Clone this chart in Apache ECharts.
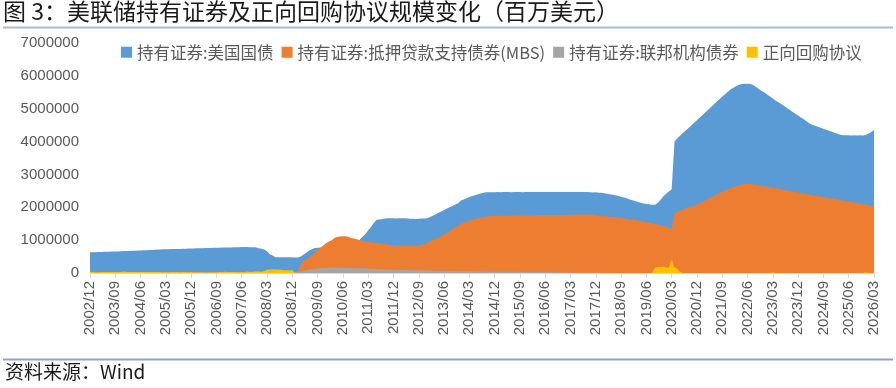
<!DOCTYPE html>
<html>
<head>
<meta charset="utf-8">
<script src="https://cdn.jsdelivr.net/npm/echarts/dist/echarts.min.js"></script>
<style>
html,body{margin:0;padding:0;background:#fff;}
#chart{width:896px;height:388px;}
</style>
</head>
<body>
<div id="chart"></div>
<script>
// ---- data (millions of USD), monthly from 2002/12 to 2026/03 ----
var seriesNames = ['持有证券:美国国债', '持有证券:抵押贷款支持债券(MBS)', '持有证券:联邦机构债券', '正向回购协议'];

var treasury = [
  629000,
  631000,634000,637000,640000,643000,646000,650000,652000,655000,658000,662000,666000,
  669000,672000,675000,679000,683000,687000,691000,695000,699000,703000,708000,717000,
  719000,721000,723000,725000,727000,730000,732000,734000,737000,740000,742000,744000,
  747000,750000,753000,756000,759000,762000,764000,767000,769000,772000,775000,779000,
  779000,779000,780000,781000,786000,790000,790000,790000,780000,780000,780000,754000,
  740000,713000,660000,573000,530000,479000,479000,479000,479000,476000,476000,476000,
  475000,475000,500000,560000,620000,682000,725000,760000,770000,774000,776000,777000,
  777000,777000,777000,777000,777000,777000,777000,795000,812000,835000,860000,1016000,
  1100000,1190000,1300000,1400000,1520000,1617000,1630000,1645000,1658000,1667000,1669000,1663000,
  1660000,1665000,1667000,1665000,1660000,1648000,1650000,1645000,1650000,1655000,1660000,1666000,
  1705000,1745000,1790000,1830000,1875000,1915000,1960000,2000000,2040000,2085000,2120000,2208000,
  2240000,2275000,2310000,2340000,2370000,2395000,2420000,2440000,2455000,2460000,2461000,2461000,
  2462000,2461000,2462000,2463000,2462000,2461000,2462000,2463000,2462000,2461000,2462000,2462000,
  2463000,2462000,2463000,2464000,2463000,2462000,2463000,2464000,2463000,2463000,2464000,2464000,
  2465000,2464000,2465000,2464000,2465000,2465000,2465000,2465000,2465000,2458000,2451000,2454000,
  2446000,2440000,2428000,2415000,2400000,2380000,2364000,2344000,2318000,2300000,2278000,2238000,
  2215000,2190000,2160000,2140000,2115000,2100000,2090000,2075000,2080000,2130000,2220000,2330000,
  2410000,2480000,2550000,4000000,4100000,4180000,4260000,4340000,4410000,4490000,4570000,4650000,
  4730000,4810000,4890000,4970000,5050000,5130000,5210000,5290000,5370000,5440000,5520000,5590000,
  5640000,5690000,5730000,5750000,5760000,5760000,5750000,5720000,5660000,5600000,5540000,5490000,
  5430000,5370000,5310000,5250000,5200000,5140000,5080000,5020000,4970000,4910000,4850000,4790000,
  4730000,4680000,4620000,4560000,4510000,4480000,4450000,4420000,4390000,4360000,4330000,4300000,
  4270000,4240000,4210000,4195000,4190000,4190000,4185000,4190000,4185000,4190000,4185000,4200000,
  4240000,4290000,4360000
];

var mbs = [
  0,
  0,0,0,0,0,0,0,0,0,0,0,0,
  0,0,0,0,0,0,0,0,0,0,0,0,
  0,0,0,0,0,0,0,0,0,0,0,0,
  0,0,0,0,0,0,0,0,0,0,0,0,
  0,0,0,0,0,0,0,0,0,0,0,0,
  0,0,0,0,0,0,0,0,0,0,0,0,
  20000,68000,236000,368000,428000,462000,542000,624000,716000,772000,838000,908000,
  960000,1000000,1069000,1100000,1110000,1118000,1118000,1100000,1060000,1050000,1030000,992000,
  985000,970000,950000,930000,920000,910000,900000,890000,880000,860000,850000,848000,
  845000,842000,840000,840000,838000,835000,838000,840000,842000,855000,880000,927000,
  960000,1000000,1040000,1080000,1120000,1170000,1220000,1280000,1340000,1390000,1440000,1490000,
  1530000,1560000,1590000,1620000,1650000,1670000,1690000,1705000,1715000,1725000,1735000,1738000,
  1740000,1742000,1745000,1745000,1748000,1750000,1752000,1754000,1755000,1756000,1757000,1758000,
  1758000,1759000,1760000,1762000,1762000,1763000,1763000,1764000,1765000,1765000,1766000,1767000,
  1768000,1769000,1770000,1772000,1773000,1775000,1776000,1777000,1778000,1776000,1770000,1752000,
  1745000,1738000,1730000,1722000,1713000,1704000,1694000,1684000,1673000,1662000,1650000,1638000,
  1625000,1612000,1598000,1584000,1568000,1551000,1533000,1514000,1494000,1473000,1451000,1428000,
  1405000,1380000,1340000,1800000,1870000,1900000,1930000,1960000,1990000,2020000,2050000,2080000,
  2120000,2170000,2210000,2260000,2300000,2340000,2390000,2430000,2470000,2510000,2550000,2590000,
  2620000,2650000,2670000,2690000,2700000,2705000,2705000,2700000,2685000,2670000,2654000,2639000,
  2623000,2608000,2592000,2577000,2561000,2546000,2530000,2515000,2499000,2484000,2468000,2453000,
  2437000,2422000,2406000,2391000,2375000,2360000,2344000,2329000,2313000,2298000,2282000,2267000,
  2251000,2236000,2220000,2205000,2189000,2174000,2158000,2143000,2127000,2112000,2096000,2081000,
  2065000,2050000,2034000
];

var agency = [
  0,
  0,0,0,0,0,0,0,0,0,0,0,0,
  0,0,0,0,0,0,0,0,0,0,0,0,
  0,0,0,0,0,0,0,0,0,0,0,0,
  0,0,0,0,0,0,0,0,0,0,0,0,
  0,0,0,0,0,0,0,0,0,0,0,0,
  0,0,0,0,0,0,0,0,5000,12000,15000,20000,
  27000,35000,44000,55000,90000,97000,112000,130000,140000,150000,155000,160000,
  164000,166000,169000,166000,164000,160000,159000,155000,152000,150000,148000,147000,
  144000,142000,138000,133000,126000,118000,114000,111000,108000,106000,104000,104000,
  101000,99000,97000,95000,91000,87000,86000,85000,84000,82000,80000,77000,
  75000,72000,70000,69000,68000,67000,66000,64000,63000,62000,60000,57000,
  56000,54000,52000,51000,47000,44000,43000,42000,41000,41000,40000,39000,
  39000,38000,37000,37000,37000,37000,36000,36000,34000,34000,33000,33000,
  33000,32000,29000,28000,27000,24000,23000,20000,20000,18000,17000,17000,
  16000,13000,11000,10000,9000,8000,8000,7000,6000,5000,4000,4000,
  2347,2347,2347,2347,2347,2347,2347,2347,2347,2347,2347,2347,
  2347,2347,2347,2347,2347,2347,2347,2347,2347,2347,2347,2347,
  2347,2347,2347,2347,2347,2347,2347,2347,2347,2347,2347,2347,
  2347,2347,2347,2347,2347,2347,2347,2347,2347,2347,2347,2347,
  2347,2347,2347,2347,2347,2347,2347,2347,2347,2347,2347,2347,
  2347,2347,2347,2347,2347,2347,2347,2347,2347,2347,2347,2347,
  2347,2347,2347,2347,2347,2347,2347,2347,2347,2347,2347,2347,
  2347,2347,2347,2347,2347,2347,2347,2347,2347,2347,2347,2347,
  2347,2347,2347
];

var repo = [
  39000,
  30000,22000,22000,29000,31000,34000,30000,28000,29000,28000,32000,43000,
  34000,28000,29000,27000,33000,29000,27000,29000,27000,27000,31000,33000,
  28000,26000,30000,25000,27000,28000,29000,25000,28000,27000,24000,32000,
  24000,20000,22000,22000,17000,20000,24000,22000,24000,27000,31000,40000,
  30000,29000,30000,28000,25000,29000,25000,45000,33000,40000,45000,46000,
  40000,58000,100000,110000,112000,105000,110000,100000,85000,85000,80000,80000,
  0,0,0,0,0,0,0,0,0,0,0,0,
  0,0,0,0,0,0,0,0,0,0,0,0,
  0,0,0,0,0,0,0,0,0,0,0,0,
  0,0,0,0,0,0,0,0,0,0,0,0,
  0,0,0,0,0,0,0,0,0,0,0,0,
  0,0,0,0,0,0,0,0,0,0,0,0,
  0,0,0,0,0,0,0,0,0,0,0,0,
  0,0,0,0,0,0,0,0,0,0,0,0,
  0,0,0,0,0,0,0,0,0,0,0,0,
  0,0,0,0,0,0,0,0,0,0,0,0,
  0,0,0,0,0,0,0,0,150000,190000,180000,200000,
  170000,160000,420000,160000,140000,30000,0,0,0,0,0,0,
  0,0,0,0,0,0,0,0,0,0,0,0,
  0,0,0,0,0,0,0,0,0,0,0,0,
  0,0,25000,0,0,0,0,0,0,0,0,0,
  0,0,0,0,0,0,0,0,0,0,0,0,
  0,0,0,0,0,0,0,0,0,0,0,25000,
  5000,0,0
];

// month categories 2002/12 .. 2026/03
var categories = [];
(function () {
  var y = 2002, m = 12;
  while (y < 2026 || (y === 2026 && m <= 3)) {
    categories.push(y + '/' + (m < 10 ? '0' + m : '' + m));
    m++; if (m > 12) { m = 1; y++; }
  }
})();

var colors = ['#5B9BD5', '#ED7D31', '#A5A5A5', '#FFC000'];
var yMax = 7000000, yInterval = 1000000;

var chart = echarts.init(document.getElementById('chart'), null, {renderer: 'canvas'});
var valueSets = [treasury, mbs, agency, repo];
var series = valueSets.map(function (vals, i) {
  return {
    name: seriesNames[i],
    type: 'line',
    data: vals,
    showSymbol: false,
    symbol: 'none',
    smooth: false,
    lineStyle: {width: 0, color: colors[i]},
    itemStyle: {color: colors[i]},
    areaStyle: {color: colors[i], opacity: 1},
    z: 2 + i
  };
});

chart.setOption({
  animation: false,
  backgroundColor: '#fff',
  color: colors,
  grid: {left: 90, right: 22, top: 43, bottom: 115, containLabel: false},
  legend: {
    data: seriesNames,
    left: 116, top: 39,
    itemWidth: 11, itemHeight: 11, itemGap: 8,
    icon: 'rect',
    textStyle: {fontSize: 16.5, color: '#595959', fontFamily: 'Noto Sans CJK SC'}
  },
  xAxis: {
    type: 'category',
    data: categories,
    boundaryGap: false,
    axisLine: {lineStyle: {color: '#D9D9D9', width: 1}},
    axisTick: {show: true, interval: 8, length: 5, lineStyle: {color: '#D9D9D9'}},
    axisLabel: {interval: 8, rotate: 90, fontSize: 15, color: '#595959', margin: 8, fontFamily: 'Liberation Sans'},
    splitLine: {show: false}
  },
  yAxis: {
    type: 'value',
    min: 0, max: yMax, interval: yInterval,
    axisLine: {show: false},
    axisTick: {show: false},
    splitLine: {show: false},
    axisLabel: {fontSize: 15, color: '#595959', margin: 11, fontFamily: 'Liberation Sans',
      formatter: function (v) { return String(v); }}
  },
  series: series,
  graphic: [
    {type: 'text', left: 3, top: 0, style: {text: '图 3：美联储持有证券及正向回购协议规模变化（百万美元）', fontSize: 23, fill: '#1a1a1a', fontFamily: 'Noto Sans CJK SC'}},
    {type: 'line', shape: {x1: 3, y1: 27.5, x2: 893, y2: 27.5}, style: {stroke: '#A9BCD3', lineWidth: 2}},
    {type: 'line', shape: {x1: 3, y1: 359.5, x2: 893, y2: 359.5}, style: {stroke: '#8AA6C6', lineWidth: 2}},
    {type: 'text', left: 5, top: 362, style: {text: '资料来源：Wind', fontSize: 19, fill: '#1a1a1a', fontFamily: 'Noto Sans CJK SC'}}
  ]
});
</script>
</body>
</html>
